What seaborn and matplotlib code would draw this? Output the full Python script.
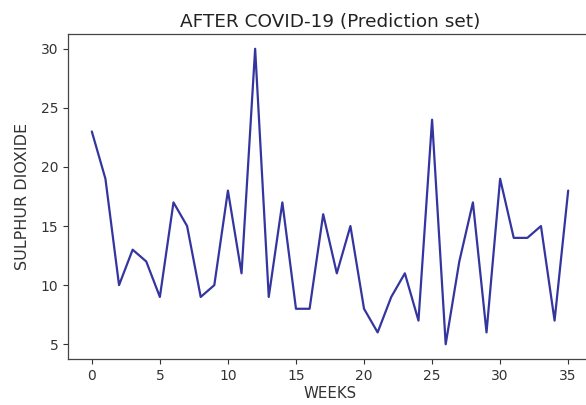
import matplotlib
matplotlib.use("Agg")
import matplotlib.pyplot as plt
import seaborn as sns
import pandas as pd

weeks = list(range(36))
sulphur_dioxide = [23, 19, 10, 13, 12, 9, 17, 15, 9, 10,
                   18, 11, 30, 9, 17, 8, 8, 16, 11, 15,
                   8, 6, 9, 11, 7, 24, 5, 12, 17, 6,
                   19, 14, 14, 15, 7, 18]

df = pd.DataFrame({"WEEKS": weeks, "SULPHUR DIOXIDE": sulphur_dioxide})

sns.set_style("ticks")
plt.rcParams["font.family"] = ["DejaVu Sans"]

fig = plt.figure(figsize=(5.86, 4.05), dpi=100)
ax = fig.add_axes([68 / 586, 1 - 359 / 405, 524 / 586, 325 / 405])

sns.lineplot(data=df, x="WEEKS", y="SULPHUR DIOXIDE", ax=ax,
             color="#3535a0", linewidth=1.6)

ax.set_title("AFTER COVID-19 (Prediction set)", fontsize=13.3,
             color="#222222", pad=5)
ax.set_xlabel("WEEKS", fontsize=10.8, color="#333333", labelpad=2)
ax.set_ylabel("SULPHUR DIOXIDE", fontsize=11.5, color="#333333", labelpad=8)
ax.set_xticks([0, 5, 10, 15, 20, 25, 30, 35])
ax.set_yticks([5, 10, 15, 20, 25, 30])
ax.tick_params(labelsize=10, colors="#333333")
for s in ax.spines.values():
    s.set_visible(True)
    s.set_color("#444444")
    s.set_linewidth(0.9)

fig.savefig("out.png", dpi=100)
